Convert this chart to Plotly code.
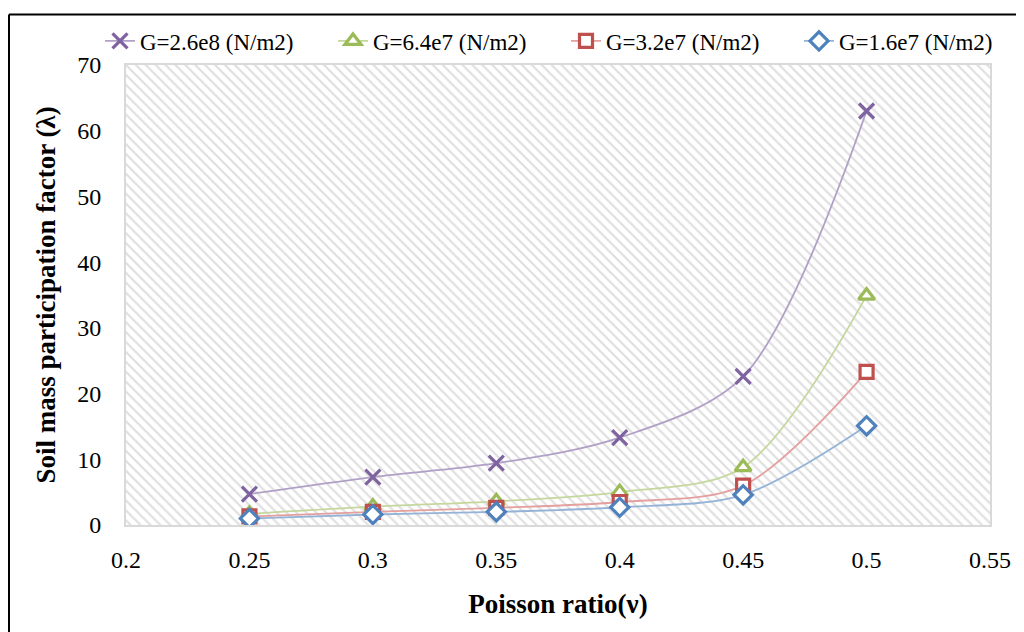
import plotly.graph_objects as go

poisson = [0.25, 0.3, 0.35, 0.4, 0.45, 0.5]
g_26e8 = [4.7, 7.3, 9.4, 13.3, 22.6, 63.0]
g_64e7 = [1.7, 2.8, 3.6, 5.0, 8.8, 34.9]
g_32e7 = [1.3, 2.0, 2.6, 3.5, 6.0, 23.3]
g_16e7 = [1.0, 1.6, 2.0, 2.7, 4.6, 15.1]
names = ["G=2.6e8 (N/m2)", "G=6.4e7 (N/m2)", "G=3.2e7 (N/m2)", "G=1.6e7 (N/m2)"]
x_ticks = [0.2, 0.25, 0.3, 0.35, 0.4, 0.45, 0.5, 0.55]
y_ticks = [0, 10, 20, 30, 40, 50, 60, 70]

FONT = "Liberation Serif"

fig = go.Figure()

# hatched plot-area background
fig.add_trace(go.Scatter(
    x=[x_ticks[0], x_ticks[-1], x_ticks[-1], x_ticks[0], x_ticks[0]],
    y=[y_ticks[0], y_ticks[0], y_ticks[-1], y_ticks[-1], y_ticks[0]],
    mode="lines", fill="toself", fillcolor="white",
    fillpattern=dict(shape="\\", fgcolor="#c0c0c0", bgcolor="white", size=7, solidity=0.32),
    line=dict(width=0), hoverinfo="skip", showlegend=False,
))

styles = [
    (g_26e8, "x-thin", "#7F62A0", "#B1A0C6", "#7F62A0", 15),
    (g_64e7, "triangle-up", "white", "#C4D79C", "#9BBB59", 14),
    (g_32e7, "square", "white", "#E3A09E", "#C0504D", 13),
    (g_16e7, "diamond", "white", "#95B3D7", "#4F81BD", 14),
]
for (vals, sym, fillc, linec, mlinec, size), name in zip(styles, names):
    fig.add_trace(go.Scatter(
        x=poisson, y=vals, name=name, mode="lines+markers",
        line=dict(color=linec, width=1.8, shape="spline", smoothing=0.9),
        marker=dict(symbol=sym, size=size, color=fillc,
                    line=dict(color=mlinec, width=3.2)),
    ))

L, R, T, B = 118, 42, 52, 115
PW, PH = 1024 - L - R, 632 - T - B
OFF = 8

def px_to_paper_x(px):
    return (px - OFF - L) / PW

def px_to_paper_y(py):
    return (OFF + T + PH - py) / PH

fig.update_layout(
    width=1024, height=632,
    margin=dict(l=L, r=R, t=T, b=B),
    paper_bgcolor="white", plot_bgcolor="white",
    font=dict(family=FONT, size=24, color="black"),
    legend=dict(orientation="h", x=px_to_paper_x(108), y=px_to_paper_y(14),
                xanchor="left", yanchor="top",
                font=dict(family=FONT, size=23), bgcolor="rgba(0,0,0,0)",
                itemwidth=30, traceorder="normal",
                entrywidth=188, entrywidthmode="pixels"),
    xaxis=dict(range=[0.2, 0.55], tickvals=x_ticks, ticktext=[f"{v:g}" for v in x_ticks],
               showgrid=True, gridcolor="#D9D9D9", gridwidth=2,
               zeroline=False, showline=True, linecolor="#D9D9D9", linewidth=2, mirror=True,
               ticks="", ticklabelstandoff=12,
               title=dict(text="<b>Poisson ratio(ν)</b>", font=dict(family=FONT, size=27), standoff=22)),
    yaxis=dict(range=[0, 70], tickvals=y_ticks,
               showgrid=True, gridcolor="#D9D9D9", gridwidth=2,
               zeroline=False, showline=True, linecolor="#D9D9D9", linewidth=2, mirror=True,
               ticks="", ticklabelstandoff=18,
               title=dict(text="<b>Soil mass participation factor (λ)</b>", font=dict(family=FONT, size=27), standoff=14)),
    shapes=[
        dict(type="line", xref="paper", yref="paper",
             x0=px_to_paper_x(9), x1=px_to_paper_x(1040), y0=px_to_paper_y(9), y1=px_to_paper_y(9),
             line=dict(color="black", width=2)),
        dict(type="line", xref="paper", yref="paper",
             x0=px_to_paper_x(9), x1=px_to_paper_x(9), y0=px_to_paper_y(9), y1=px_to_paper_y(660),
             line=dict(color="black", width=2)),
    ],
)

fig.write_html("out.html")
